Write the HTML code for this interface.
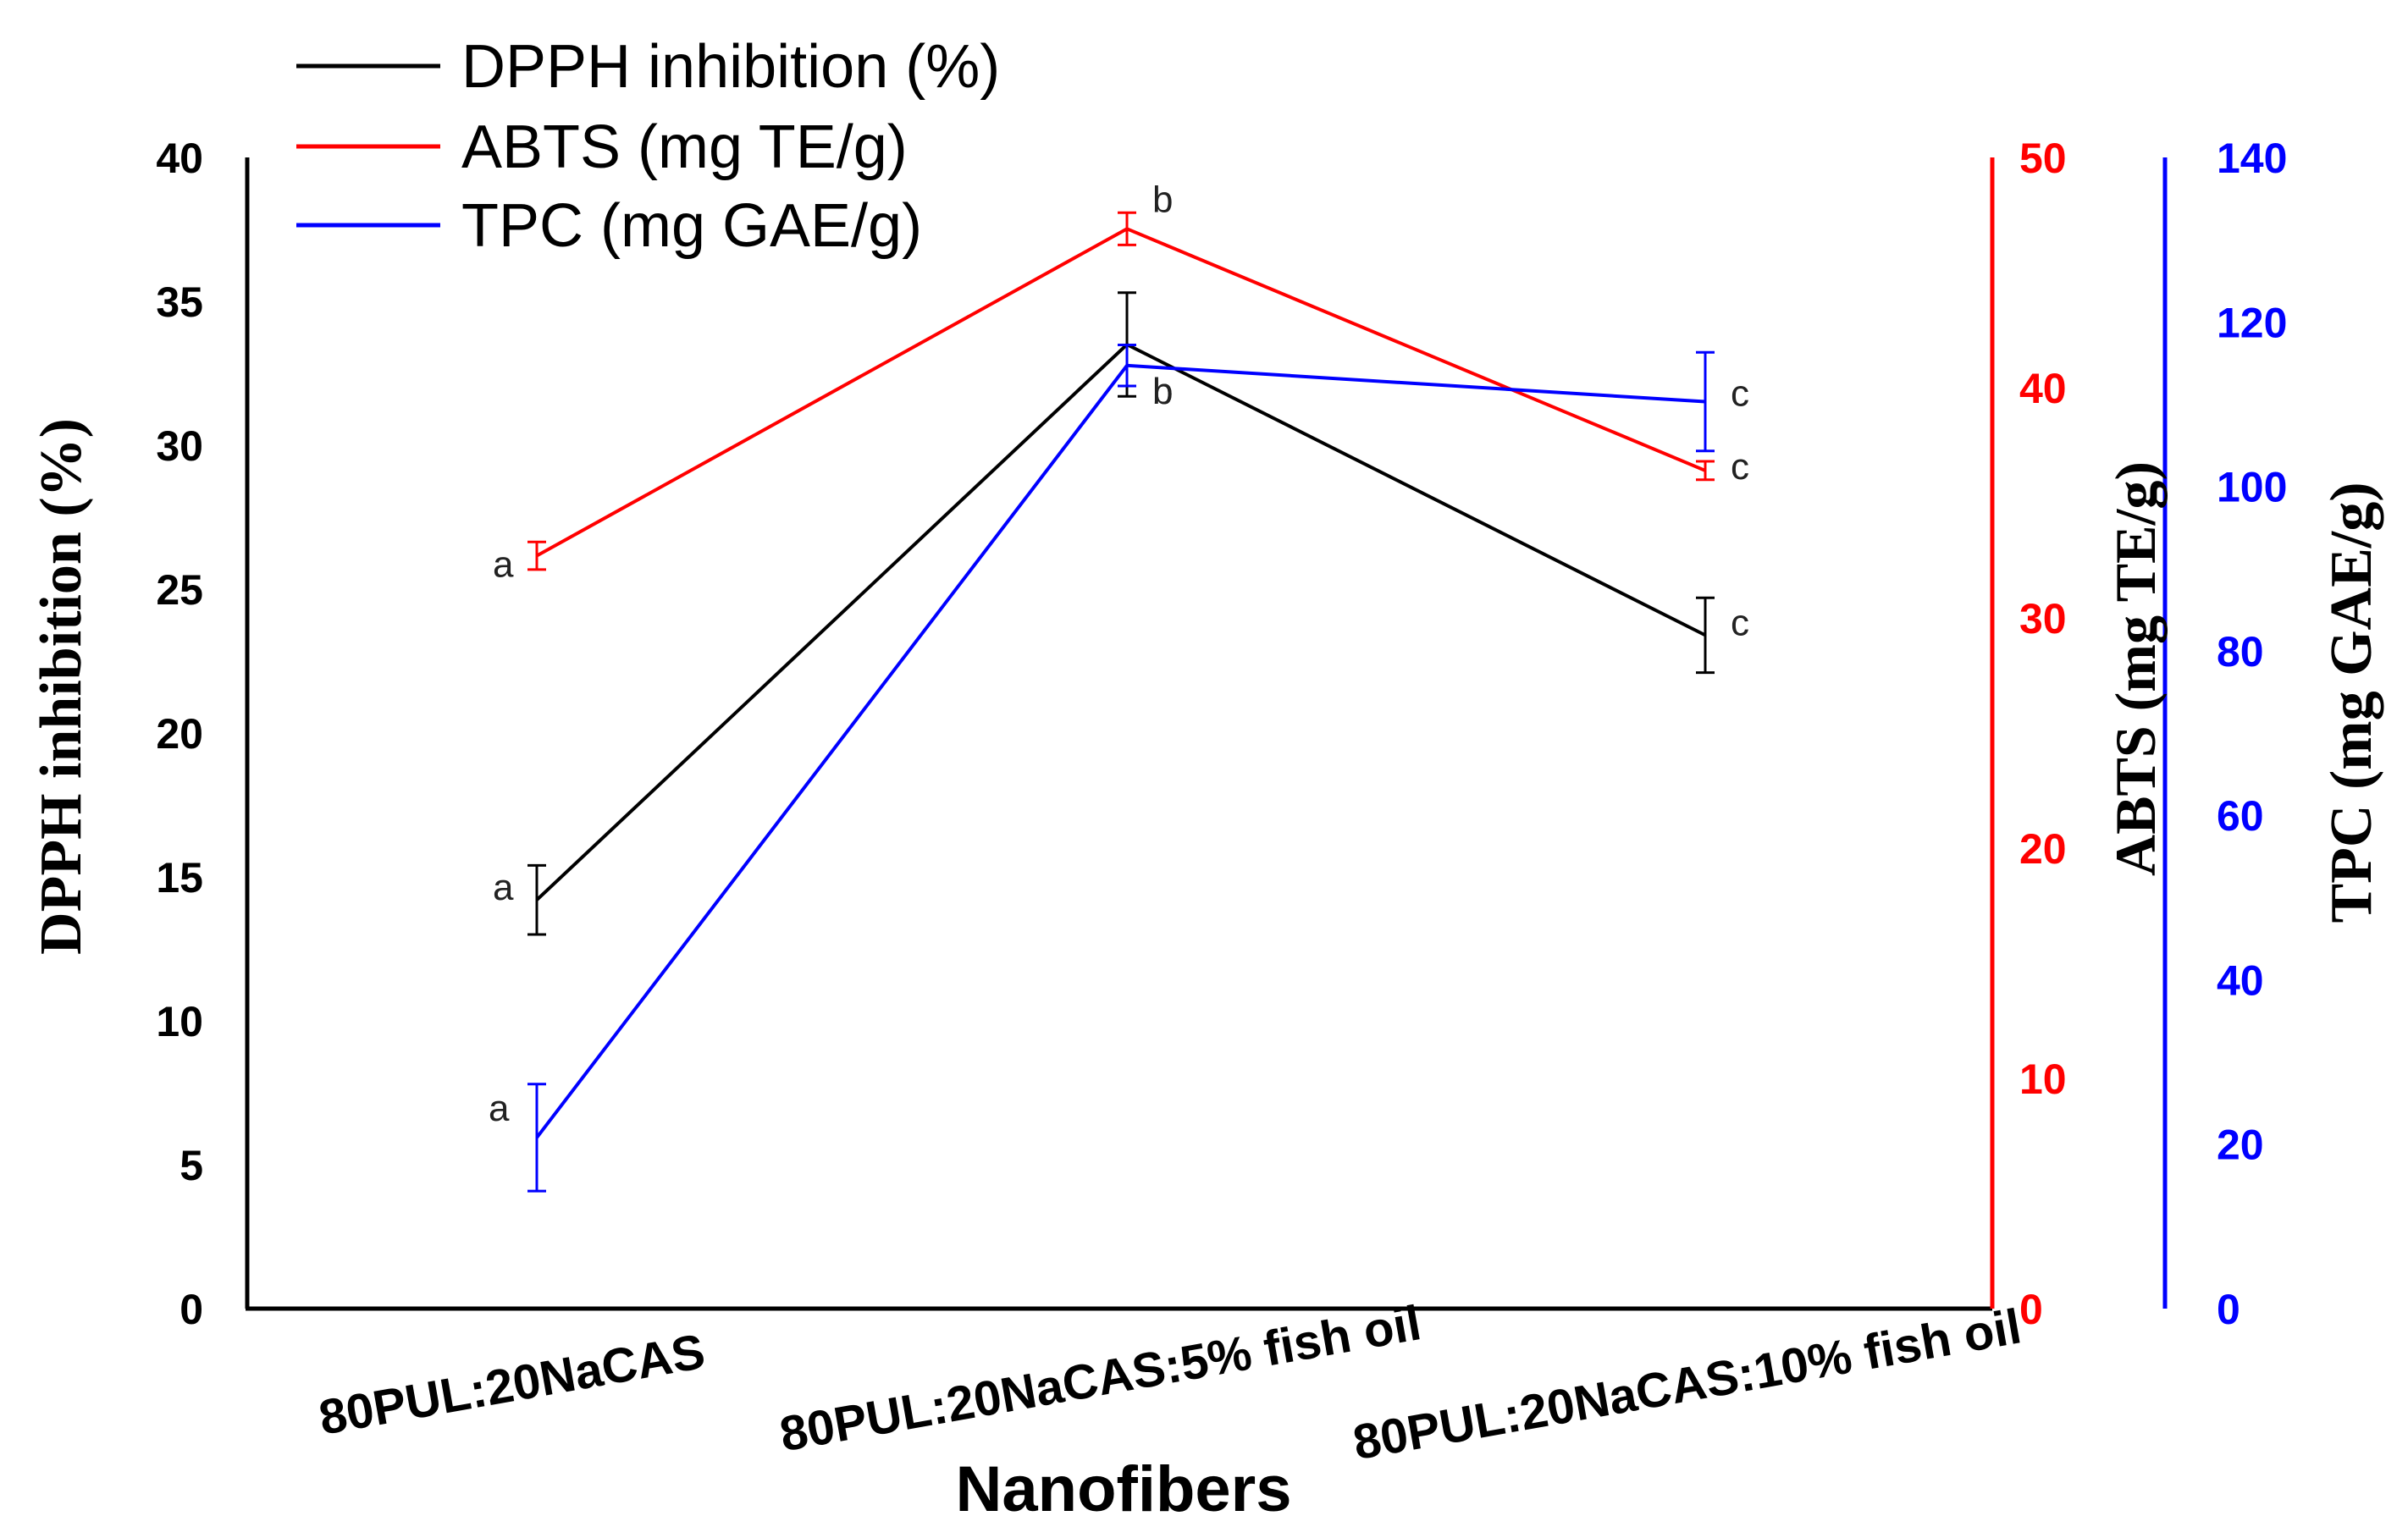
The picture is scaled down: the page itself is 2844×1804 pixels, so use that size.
<!DOCTYPE html>
<html><head><meta charset="utf-8"><style>
body{margin:0;background:#fff;}
svg{display:block;font-family:"Liberation Sans",sans-serif;}
</style></head><body>
<svg id="c" width="2844" height="1804" viewBox="0 0 2844 1804">
<g id="g"></g>
</svg>
<script>
const categories=["80PUL:20NaCAS","80PUL:20NaCAS:5% fish oil","80PUL:20NaCAS:10% fish oil"];
const dpph=[14.2,33.5,23.4];
const dpphErr=[1.2,1.8,1.3];
const abts=[32.7,46.9,36.4];
const abtsErr=[0.6,0.7,0.4];
const tpc=[20.8,114.7,110.3];
const tpcErr=[6.5,2.5,6];
const letters=["a","b","c"];
const leftTicks=[0,5,10,15,20,25,30,35,40];
const redTicks=[0,10,20,30,40,50];
const blueTicks=[0,20,40,60,80,100,120,140];

const NS="http://www.w3.org/2000/svg";
const g=document.getElementById('g');
const yTop=186,bot=1546,xL=292,xR=2353,xB=2557;
const catX=[634,1331,2014];
const yL=v=>bot-(v/40)*(bot-yTop);
const yR=v=>bot-(v/50)*(bot-yTop);
const yB=v=>bot-(v/140)*(bot-yTop);
function el(t,a,txt){const e=document.createElementNS(NS,t);for(const k in a)e.setAttribute(k,a[k]);if(txt!==undefined)e.textContent=txt;g.appendChild(e);return e;}

let e;
e=el('line',{x1:xL,y1:yTop,x2:xL,y2:bot,stroke:'#000','stroke-width':5});


e=el('line',{x1:xL-2,y1:bot,x2:xR,y2:bot,stroke:'#000','stroke-width':5});


e=el('line',{x1:xR,y1:yTop,x2:xR,y2:bot,stroke:'#f00','stroke-width':5});


e=el('line',{x1:xB,y1:yTop,x2:xB,y2:bot,stroke:'#00f','stroke-width':5});



leftTicks.forEach(v=>{e=el('text',{x:240,y:yL(v)+18,'text-anchor':'end','font-size':50,'font-weight':'bold',fill:'#000'},v);

});
redTicks.forEach(v=>{e=el('text',{x:2385,y:yR(v)+18,'font-size':50,'font-weight':'bold',fill:'#f00'},v);

});
blueTicks.forEach(v=>{e=el('text',{x:2618,y:yB(v)+18,'font-size':50,'font-weight':'bold',fill:'#00f'},v);

});

function series(vals,errs,sc,col,name,lx,ly){
  const pts=vals.map((v,i)=>catX[i]+','+sc(v)).join(' ');
  let p=el('polyline',{points:pts,fill:'none',stroke:col,'stroke-width':4});
  
  
  vals.forEach((v,i)=>{
    const x=catX[i],a=sc(v+errs[i]),b=sc(v-errs[i]);
    const eb=el('path',{d:`M${x},${a}V${b}M${x-11},${a}H${x+11}M${x-11},${b}H${x+11}`,stroke:col,'stroke-width':3,fill:'none'});
    
    
    const t=el('text',{x:x+lx[i],y:sc(v)+ly[i],'font-size':44,fill:'#222'},letters[i]);
    
    
  });
}
series(abts,abtsErr,yR,'#f00','abts',[-52,30,30],[25,-20,10]);
series(dpph,dpphErr,yL,'#000','dpph',[-52,30,30],[0,yB(tpc[1])+45-yL(dpph[1]),0]);
series(tpc,tpcErr,yB,'#00f','tpc',[-57,30,30],[-20,45,5]);

categories.forEach((c,i)=>{
  const cx=[608,1303,1996][i],cy=[1655,1648,1655][i];
  const t=el('text',{x:cx,y:cy,'text-anchor':'middle','font-size':58,'font-weight':'bold',fill:'#000',transform:`rotate(-10 ${cx} ${cy})`},c);
  
  
});
e=el('text',{x:1327,y:1785,'text-anchor':'middle','font-size':76,'font-weight':'bold'},'Nanofibers');


e=el('text',{x:0,y:0,'text-anchor':'middle','font-size':70,'font-weight':'bold','font-family':'Liberation Serif, serif',transform:'translate(95 811) rotate(-90)'},'DPPH inhibition (%)');


e=el('text',{x:0,y:0,'text-anchor':'middle','font-size':68,'font-weight':'bold','font-family':'Liberation Serif, serif',transform:'translate(2545 790) rotate(-90)'},'ABTS (mg TE/g)');


e=el('text',{x:0,y:0,'text-anchor':'middle','font-size':70,'font-weight':'bold','font-family':'Liberation Serif, serif',transform:'translate(2800 830) rotate(-90)'},'TPC (mg GAE/g)');



[["DPPH inhibition (%)","#000",78],["ABTS (mg TE/g)","#f00",173],["TPC (mg GAE/g)","#00f",266]].forEach(([t,c,y])=>{
  const l=el('line',{x1:350,y1:y,x2:520,y2:y,stroke:c,'stroke-width':5});
  
  
  const tx=el('text',{x:545,y:y+25,'font-size':72,fill:'#000'},t);
  
  
});
</script>
</body></html>
